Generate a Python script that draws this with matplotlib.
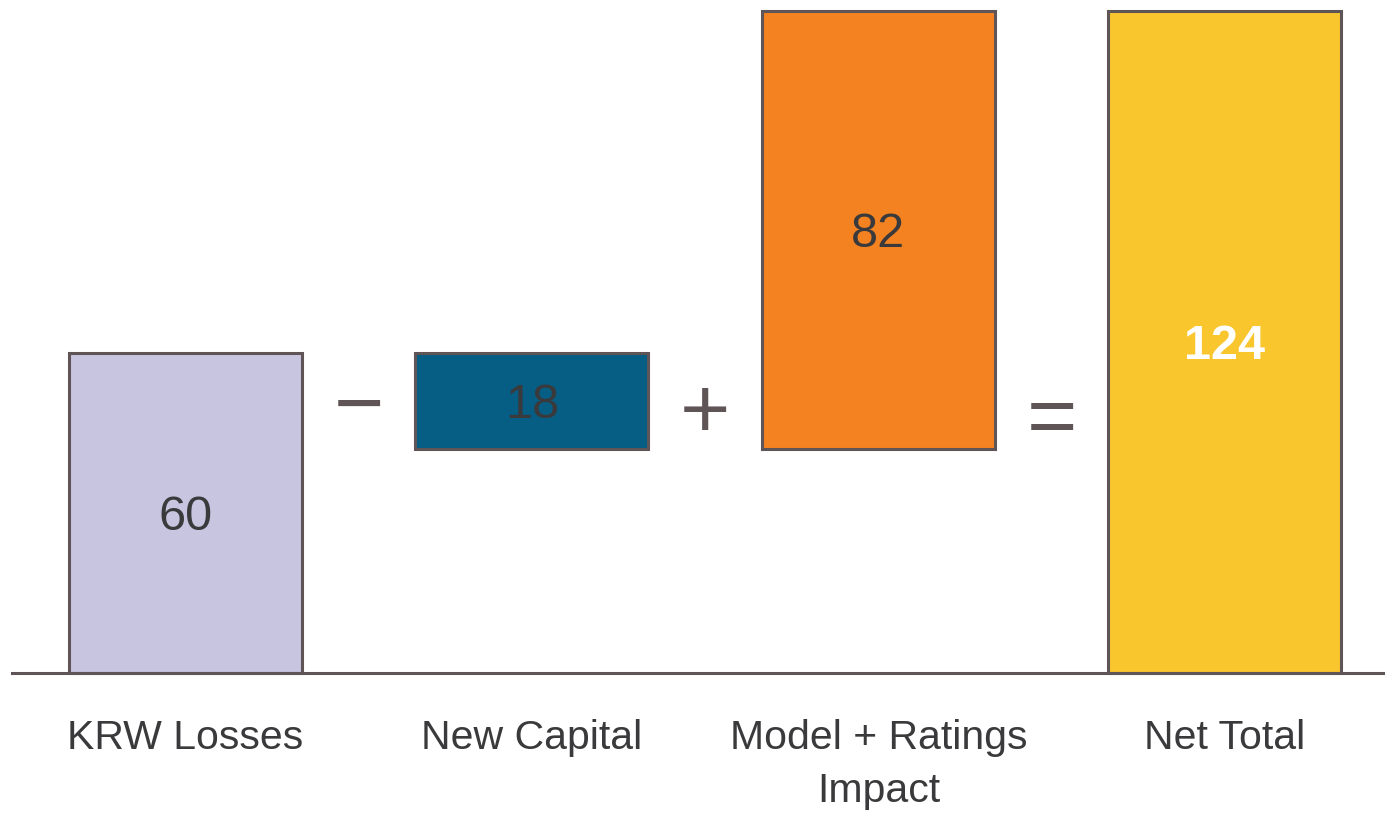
import matplotlib.pyplot as plt

categories = ["KRW Losses", "New Capital", "Model + Ratings\nImpact", "Net Total"]
values = [60, -18, 82, 124]
operators = ["\u2212", "+", "="]
colors = ["#c8c5e1", "#065e84", "#f58220", "#f9c62d"]
label_colors = ["#3a3a3c", "#3a3a3c", "#3a3a3c", "white"]

plt.rcParams['font.family'] = ['Liberation Sans', 'DejaVu Sans']

# bottoms and heights of the waterfall steps
bottoms = []
heights = []
running = 0
for i, v in enumerate(values):
    if i == len(values) - 1:
        bottoms.append(0)
        heights.append(v)
    elif v >= 0:
        bottoms.append(running)
        heights.append(v)
        running += v
    else:
        running += v
        bottoms.append(running)
        heights.append(-v)

fig = plt.figure(figsize=(13.85, 8.13), dpi=100)
ax = fig.add_axes([0, 0, 1, 1])

x = range(len(categories))
ax.bar(x, heights, bottom=bottoms, width=0.672, color=colors,
       edgecolor="#5f5557", linewidth=2.2, zorder=2)

ax.plot([-0.5, 3.47], [0, 0], color="#5f5557", linewidth=2.2, zorder=3)

for i in x:
    mid = bottoms[i] + heights[i] / 2
    weight = "bold" if i == len(values) - 1 else "normal"
    ax.text(i, mid, str(abs(values[i])), ha="center", va="center_baseline",
            fontsize=35, color=label_colors[i], fontweight=weight, zorder=4)
    ax.text(i, -8.6, categories[i], ha="center", va="top", fontsize=29.5,
            color="#3a3a3c", linespacing=1.5)

# operators between the bars
op_y = [49.2, 48.2, 47.0]
for i, op in enumerate(operators):
    ax.text(i + 0.5, op_y[i], op, ha="center", va="center", fontsize=62,
            color="#5f5557")

ax.set_xlim(-0.535, 3.462)
ax.set_ylim(-26.2, 126.0)
ax.axis("off")

fig.savefig("out.png", dpi=100)
